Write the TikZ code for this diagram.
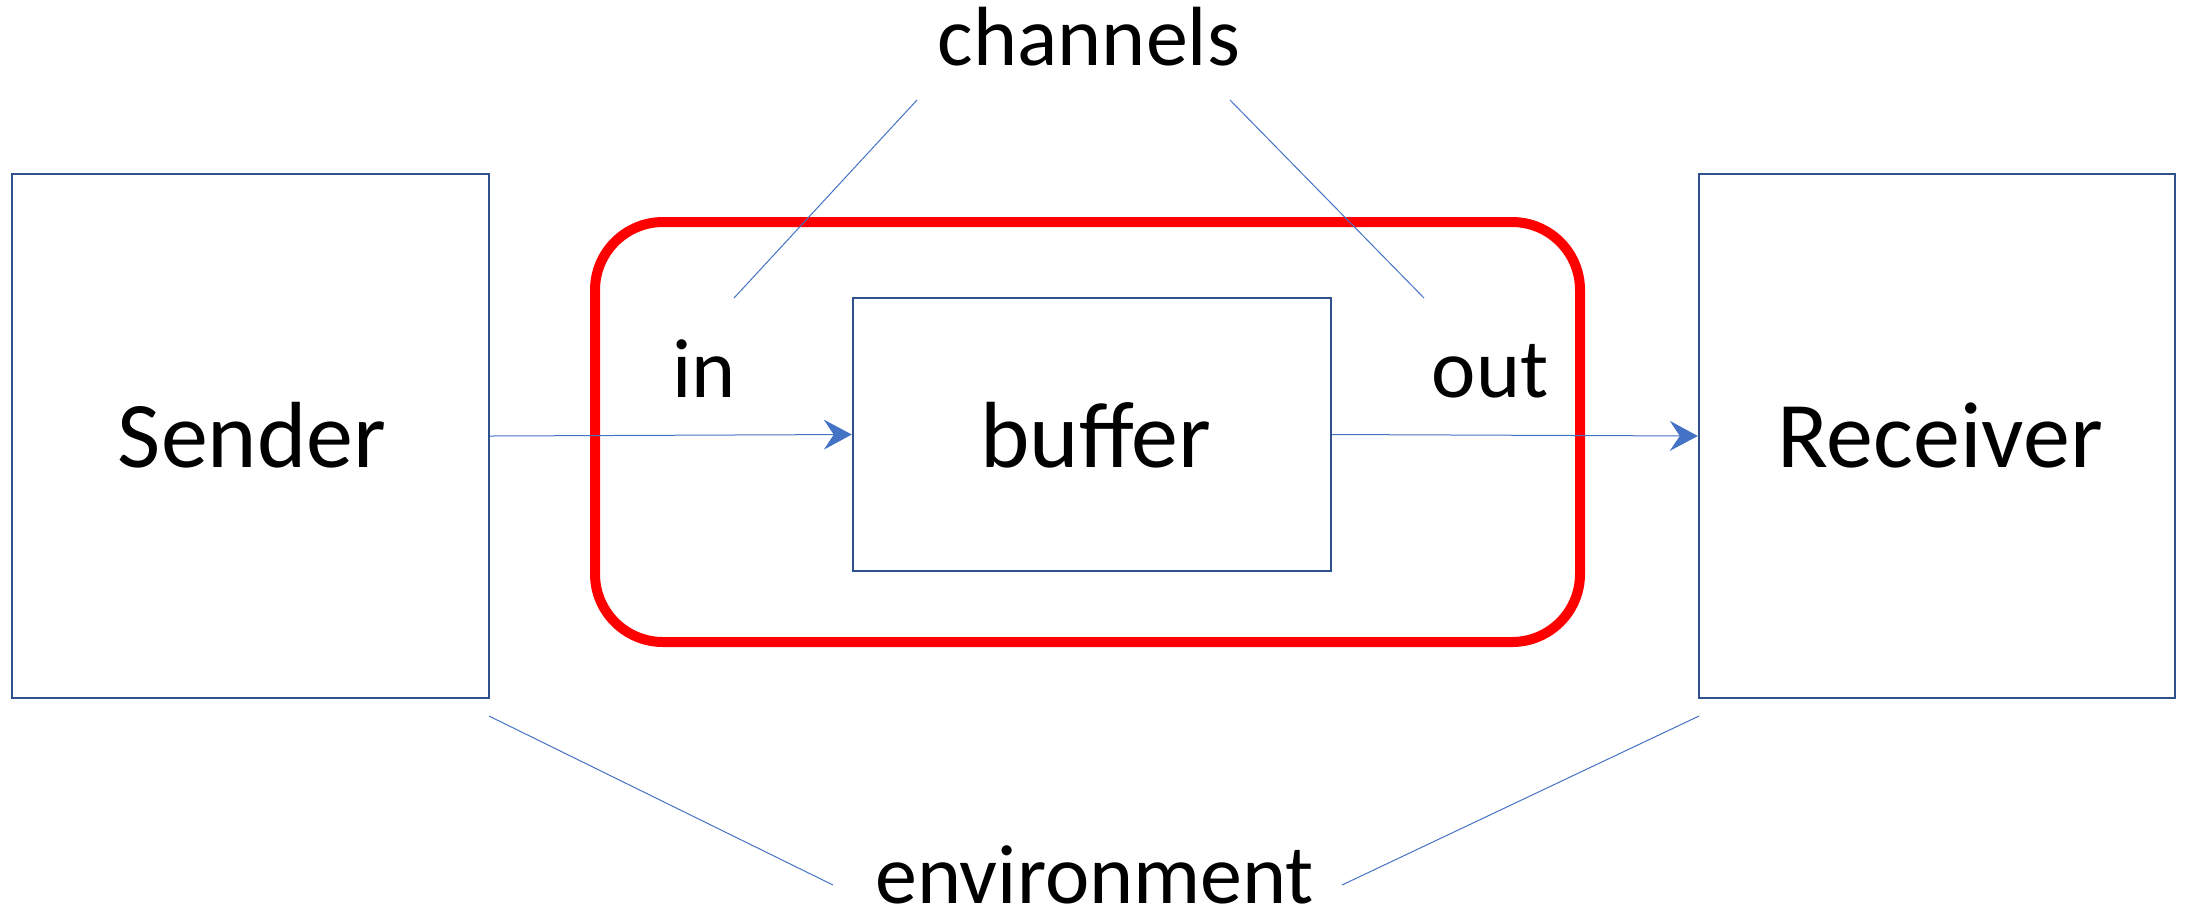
\documentclass[tikz,border=0pt]{standalone}
\usepackage{fontspec}
\setmainfont{Carlito}
\usetikzlibrary{arrows.meta}

\definecolor{boxblue}{HTML}{2F528F}
\definecolor{lineblue}{HTML}{4472C4}

\tikzset{
    block/.style={draw=boxblue, line width=1.2pt, inner sep=0pt},
    biglabel/.style={font=\fontsize{47}{56}\selectfont, anchor=base, inner sep=0pt},
    smalllabel/.style={font=\fontsize{42}{50}\selectfont, anchor=base, inner sep=0pt},
    thin line/.style={draw=lineblue, line width=0.5pt},
    flow/.style={thin line, -{Stealth[length=14pt, width=15pt, inset=5pt]}}
}

\begin{document}
\begin{tikzpicture}[x=0.5pt, y=-0.5pt]
        \useasboundingbox (0,0) rectangle (2185,918);

        % the three boxes
        \node[block, minimum width=238.5pt, minimum height=262pt] (sender) at (250.5, 436) {};
        \node[block, minimum width=238pt, minimum height=262pt] (receiver) at (1937, 436) {};
        \node[block, minimum width=239pt, minimum height=136.5pt] (buffer) at (1092, 434.5) {};

        % channel around the buffer
        \draw[red, line width=5pt, rounded corners=34pt] (595, 222) rectangle (1580, 642);

        \node[biglabel] (sendertext) at (252, 467) {Sender};
        \node[biglabel] (buffertext) at (1096, 467) {buffer};
        \node[biglabel] (receivertext) at (1940, 467) {Receiver};

        \node[smalllabel] (in) at (704, 397) {in};
        \node[smalllabel] (out) at (1490, 397) {out};
        \node[smalllabel] (channels) at (1089, 65.5) {channels};
        \node[smalllabel] (environment) at (1094.5, 903) {environment};

        % message flow
        \draw[flow] (sender.east) -- (buffer.west);
        \draw[flow] (buffer.east) -- (receiver.west);

        % pointer lines
        \coordinate (ch1) at (917, 100);
        \coordinate (ch2) at (1230, 100);
        \coordinate (inend) at (734, 298);
        \coordinate (outend) at (1424, 298);
        \draw[thin line] (ch1) -- (inend);
        \draw[thin line] (ch2) -- (outend);

        \coordinate (env1) at (833, 885);
        \coordinate (env2) at (1342, 885);
        \coordinate (sendend) at (489, 716);
        \coordinate (recvend) at (1699, 716);
        \draw[thin line] (sendend) -- (env1);
        \draw[thin line] (recvend) -- (env2);

    \end{tikzpicture}
\end{document}
